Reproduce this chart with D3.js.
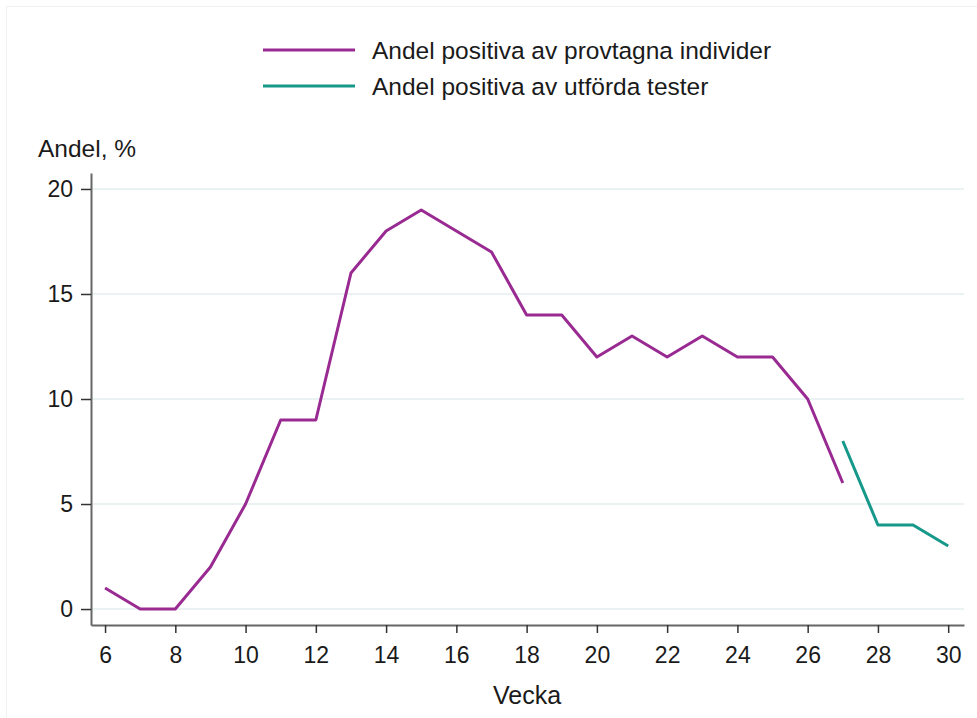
<!DOCTYPE html>
<html>
<head>
<meta charset="utf-8">
<script src="https://cdn.jsdelivr.net/npm/d3@7"></script>
<style>
  body { margin: 0; background: #fff; }
  text { font-family: "Liberation Sans", Arial, sans-serif; fill: #1a1a1a; }
</style>
</head>
<body>
<svg id="chart" width="977" height="718"></svg>
<script>
// weeks and shares (%)
var weeksIndivid = [6, 7, 8, 9, 10, 11, 12, 13, 14, 15, 16, 17, 18, 19, 20, 21, 22, 23, 24, 25, 26, 27]
var andelIndivid = [1, 0, 0, 2, 5, 9, 9, 16, 18, 19, 18, 17, 14, 14, 12, 13, 12, 13, 12, 12, 10, 6]
var weeksTester = [27, 28, 29, 30]
var andelTester = [8, 4, 4, 3]
var xTicks = [6, 8, 10, 12, 14, 16, 18, 20, 22, 24, 26, 28, 30]
var yTicks = [0, 5, 10, 15, 20]
var legendLabels = ["Andel positiva av provtagna individer", "Andel positiva av utförda tester"]
var colors = ["#992a92", "#16998a"]

function draw() {
  var svg = d3.select("#chart")
  var left = 91, right = 964, top = 173, bottom = 625

  // faint frame like the original export
  svg.append("rect")
    .attr("x", 6.5).attr("y", 6.5).attr("width", 990).attr("height", 730)
    .attr("fill", "none").attr("stroke", "#f0f0f0")

  var x = d3.scaleLinear().domain([5.6, 30.45]).range([left, right])
  var y = d3.scaleLinear().domain([-0.76, 20.76]).range([bottom, top])

  // gridlines
  svg.append("g").selectAll("line").data(yTicks).join("line")
    .attr("x1", left + 1).attr("x2", right)
    .attr("y1", function(d) { return y(d) }).attr("y2", function(d) { return y(d) })
    .attr("stroke", "#eaf2f3").attr("stroke-width", 2)

  var xAxis = svg.append("g")
    .attr("transform", "translate(0," + bottom + ")")
    .call(d3.axisBottom(x).tickValues(xTicks).tickSize(8).tickPadding(14).tickSizeOuter(0))
  var yAxis = svg.append("g")
    .attr("transform", "translate(" + left + ",0)")
    .call(d3.axisLeft(y).tickValues(yTicks).tickSize(10).tickPadding(8).tickSizeOuter(0))

  ;[xAxis, yAxis].forEach(function(a) {
    a.select(".domain").attr("stroke", "#666").attr("stroke-width", 2)
    a.selectAll(".tick line").attr("stroke", "#333").attr("stroke-width", 1.5)
    a.selectAll(".tick text").attr("font-size", 23).attr("fill", "#1a1a1a")
      .style("font-family", '"Liberation Sans", Arial, sans-serif')
  })

  var line = d3.line()
    .x(function(d) { return x(d[0]) })
    .y(function(d) { return y(d[1]) })

  var series = [d3.zip(weeksIndivid, andelIndivid), d3.zip(weeksTester, andelTester)]
  svg.append("g").selectAll("path").data(series).join("path")
    .attr("d", line)
    .attr("fill", "none")
    .attr("stroke", function(d, i) { return colors[i] })
    .attr("stroke-width", 3)
    .attr("stroke-linejoin", "round")

  // legend
  var leg = svg.append("g").selectAll("g").data(legendLabels).join("g")
    .attr("transform", function(d, i) { return "translate(263," + (50 + i * 36) + ")" })
  leg.append("line").attr("x1", 0).attr("x2", 92)
    .attr("stroke", function(d, i) { return colors[i] }).attr("stroke-width", 3)
  leg.append("text").attr("x", 109).attr("y", 9).attr("font-size", 24.5)
    .text(function(d) { return d })

  svg.append("text").attr("x", 38).attr("y", 157).attr("font-size", 24.5).text("Andel, %")
  svg.append("text").attr("x", 527).attr("y", 704).attr("font-size", 25)
    .attr("text-anchor", "middle").text("Vecka")
}
draw()
</script>
</body>
</html>
